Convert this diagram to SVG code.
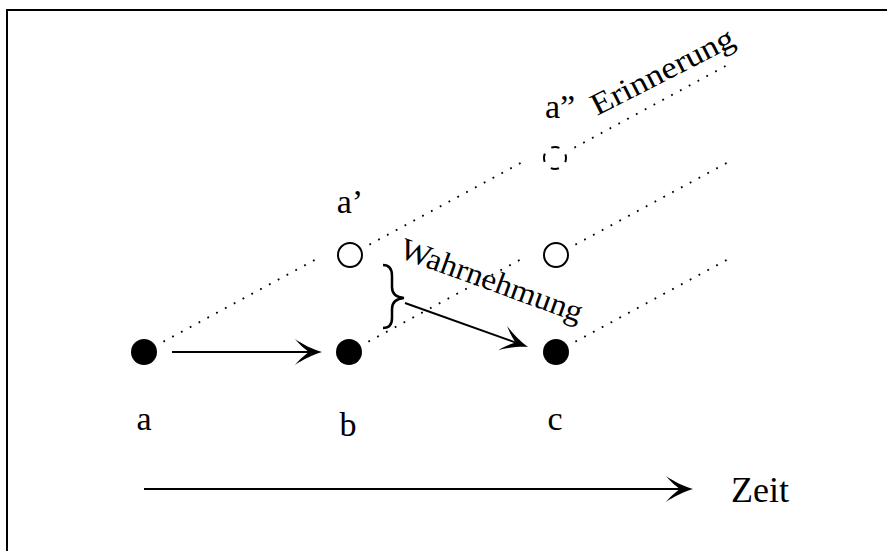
<svg xmlns="http://www.w3.org/2000/svg" width="887" height="551" viewBox="0 0 887 551">
<style>
  text { font-family: "Liberation Serif", "DejaVu Serif", serif; fill: #000; }
  .lbl { font-size: 34px; text-anchor: middle; }
  .ray { stroke: #000; stroke-width: 1.8; stroke-dasharray: 1.8 8.2; fill: none; }
  .arr { stroke: #000; stroke-width: 2; fill: none; marker-end: url(#head); }
  .full { fill: #000; }
  .open { fill: #fff; stroke: #000; stroke-width: 2; }
</style>
<defs>
  <marker id="head" markerUnits="userSpaceOnUse" orient="auto" refX="-13" refY="0" markerWidth="40" markerHeight="40" overflow="visible">
    <path d="M0,0 C-8,-2 -20,-8 -27,-13 C-21,-6 -16,-2 -13,0 C-16,2 -21,6 -27,13 C-20,8 -8,2 0,0 Z" fill="#000"/>
  </marker>
</defs>
<rect x="7" y="10" width="900" height="560" fill="#fff" stroke="#000" stroke-width="2"/>

<g id="connectors">
  <line class="ray" x1="163.4" y1="341.6" x2="321.8" y2="256.1"/>
  <line class="ray" x1="369.4" y1="244.6" x2="527.8" y2="159.1"/>
  <line class="ray" x1="574.4" y1="147.6" x2="732.8" y2="62.1"/>
  <line class="ray" x1="368.4" y1="341.6" x2="526.8" y2="256.1"/>
  <line class="ray" x1="575.4" y1="244.6" x2="733.8" y2="159.1"/>
  <line class="ray" x1="575.4" y1="341.6" x2="733.8" y2="256.1"/>
  <line class="arr" x1="172" y1="352" x2="309" y2="352"/>
  <line class="arr" x1="405" y1="303" x2="515.8" y2="342.6"/>
  <line class="arr" x1="144" y1="489" x2="680" y2="489"/>
  <path d="M383,265 Q392,265 392,276 L392,287 Q392,297 404,298 Q392,299 392,309 L392,318 Q392,328 383,328" fill="none" stroke="#000" stroke-width="2.5"/>
</g>

<g id="node-a"><circle class="full" cx="144" cy="352" r="13"/><text class="lbl" x="144" y="430">a</text></g>
<g id="node-b"><circle class="full" cx="349" cy="352" r="13"/><text class="lbl" x="348" y="436">b</text></g>
<g id="node-c"><circle class="full" cx="556" cy="352" r="13"/><text class="lbl" x="555" y="430">c</text></g>
<g id="node-a1"><circle class="open" cx="350" cy="255" r="12"/><text class="lbl" x="350" y="213">a’</text></g>
<g id="node-c1"><circle class="open" cx="556" cy="255" r="12"/></g>
<g id="node-a2"><circle cx="555" cy="158" r="11" fill="#fff" stroke="#000" stroke-width="2" stroke-dasharray="8.3 8.98" stroke-dashoffset="4.15"/><text class="lbl" x="560" y="118">a”</text></g>

<g id="labels">
  <text x="597" y="116" font-size="31" textLength="157" lengthAdjust="spacingAndGlyphs" transform="rotate(-27 597 116)">Erinnerung</text>
  <text x="398" y="257" font-size="31" textLength="192" lengthAdjust="spacingAndGlyphs" transform="rotate(20 398 257)">Wahrnehmung</text>
  <text x="731" y="502" font-size="36">Zeit</text>
</g>
</svg>
